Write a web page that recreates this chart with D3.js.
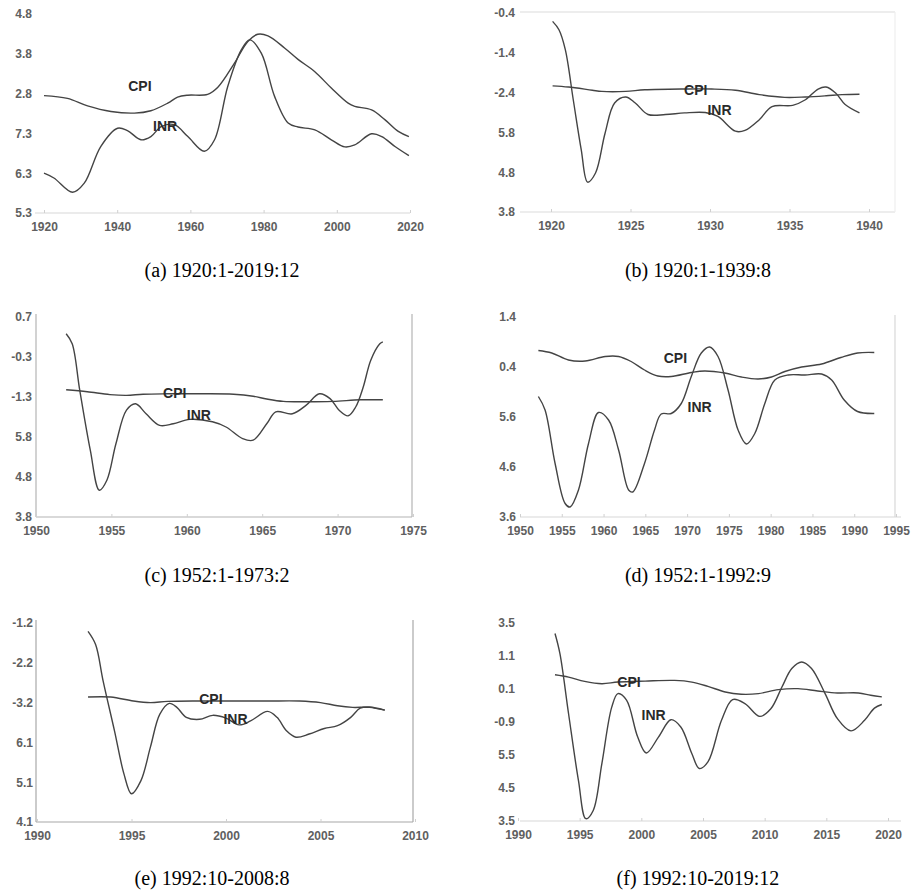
<!DOCTYPE html>
<html>
<head>
<meta charset="utf-8">
<script src="https://cdn.jsdelivr.net/npm/d3@7/dist/d3.min.js"></script>
<style>
  html, body { margin: 0; padding: 0; background: #fff; }
  svg { display: block; }
</style>
</head>
<body>
<script>
// ===== Data (values in tick-step units: 0 = lowest tick label) =====
const cpiA = [[1920,2.95],[1926.4,2.88],[1931.9,2.69],[1938.3,2.55],[1944.7,2.51],[1949.2,2.57],[1953.8,2.76],[1956.5,2.91],[1959.3,2.96],[1964.7,2.98],[1967.5,3.16],[1972,3.76],[1975.7,4.31],[1978.4,4.49],[1981.2,4.45],[1985.8,4.14],[1989.4,3.86],[1994,3.55],[1998.5,3.14],[2003.1,2.76],[2004.9,2.68],[2009.5,2.59],[2013.2,2.34],[2016.8,2.05],[2019.7,1.92]];
const inrA = [[1920,1.00],[1922.7,0.88],[1927.8,0.52],[1931,0.75],[1935.5,1.67],[1940.1,2.13],[1942.8,2.07],[1946.5,1.84],[1949.2,1.92],[1952,2.17],[1955.6,2.22],[1959.3,1.92],[1963.8,1.55],[1966.6,1.84],[1970.2,3.18],[1973.9,4.10],[1976.2,4.35],[1979.4,4.01],[1983,2.93],[1986.7,2.26],[1989.4,2.16],[1994,2.09],[1998.5,1.84],[2002.2,1.66],[2004.9,1.71],[2009.5,1.99],[2012.3,1.92],[2015.9,1.67],[2019.7,1.44]];

const cpiB = [[1920.1,3.17],[1921.1,3.14],[1922.6,3.06],[1923.2,3.03],[1924.7,3.03],[1925.9,3.07],[1928.4,3.09],[1930.1,3.09],[1931.6,3.06],[1933.1,2.95],[1934.7,2.88],[1936,2.89],[1937.3,2.92],[1938.3,2.95],[1939.4,2.96]];
const inrB = [[1920.1,4.79],[1920.5,4.58],[1920.9,4.08],[1921.4,2.82],[1921.9,1.57],[1922.3,0.75],[1922.8,0.98],[1923.4,1.98],[1924,2.74],[1924.7,2.89],[1925.3,2.74],[1926.1,2.45],[1927.2,2.45],[1928.4,2.49],[1929.7,2.50],[1930.5,2.40],[1931.6,2.03],[1932.2,2.05],[1933.1,2.32],[1933.9,2.65],[1935.2,2.68],[1936,2.82],[1936.8,3.09],[1937.3,3.14],[1937.9,2.99],[1938.5,2.70],[1939.4,2.49]];

const cpiC = [[1952,3.18],[1953.4,3.13],[1954.9,3.06],[1956,3.04],[1957.1,3.07],[1958.7,3.08],[1960.9,3.08],[1963.1,3.07],[1964.4,3.02],[1965.3,2.95],[1966.4,2.89],[1967.9,2.88],[1969.7,2.89],[1971.5,2.93],[1973,2.93]];
const inrC = [[1952,4.58],[1952.4,4.33],[1952.9,3.17],[1953.6,1.67],[1954.2,0.67],[1954.7,0.92],[1955.3,1.83],[1956,2.67],[1956.6,2.83],[1957.3,2.58],[1958.2,2.29],[1959.1,2.33],[1960.2,2.44],[1961.7,2.38],[1962.6,2.25],[1963.7,1.96],[1964.4,1.92],[1965.3,2.33],[1965.9,2.63],[1967,2.58],[1967.9,2.79],[1968.8,3.08],[1969.5,2.96],[1970.1,2.67],[1970.7,2.53],[1971.2,2.75],[1971.7,3.25],[1972.2,3.92],[1972.8,4.33],[1973,4.38]];

const cpiD = [[1952.2,3.33],[1953.8,3.28],[1955.8,3.14],[1957.8,3.12],[1960.2,3.21],[1961.8,3.21],[1963.3,3.11],[1964.9,2.94],[1966.5,2.82],[1968.1,2.81],[1970.5,2.89],[1972.1,2.92],[1974.5,2.88],[1976.5,2.80],[1978.5,2.76],[1980.1,2.80],[1981.7,2.91],[1983.7,3.00],[1986.1,3.06],[1988.4,3.19],[1990.4,3.28],[1992.4,3.29]];
const inrD = [[1952.2,2.41],[1953,2.14],[1954.2,1.07],[1955.4,0.27],[1956,0.20],[1957,0.54],[1958.2,1.47],[1959.4,2.09],[1960.6,1.94],[1961.8,1.34],[1963,0.54],[1963.5,0.50],[1964.9,1.07],[1966.1,1.74],[1966.9,2.06],[1968.1,2.07],[1969.3,2.27],[1970.5,2.81],[1971.7,3.28],[1972.7,3.40],[1973.7,3.21],[1974.9,2.54],[1976.1,1.74],[1977.1,1.46],[1978.1,1.67],[1979.3,2.27],[1980.5,2.74],[1982.1,2.84],[1984.1,2.84],[1986.1,2.86],[1987.3,2.74],[1988.8,2.34],[1990.4,2.11],[1992.4,2.07]];

const cpiE = [[1992.7,3.14],[1993.9,3.14],[1995.1,3.04],[1996,3.00],[1996.9,3.03],[1998.6,3.04],[2000.4,3.04],[2002.2,3.04],[2003.9,3.04],[2005,3.00],[2005.9,2.92],[2006.7,2.88],[2007.6,2.88],[2008.4,2.81]];
const inrE = [[1992.7,4.79],[1993.1,4.46],[1993.5,3.54],[1994.1,2.29],[1994.6,1.21],[1995,0.71],[1995.5,1.04],[1996,1.88],[1996.5,2.71],[1997,2.98],[1997.4,2.88],[1997.9,2.63],[1998.6,2.58],[1999.3,2.68],[2000,2.61],[2000.7,2.44],[2001.3,2.54],[2002.2,2.78],[2002.7,2.63],[2003.2,2.29],[2003.7,2.13],[2004.4,2.21],[2005.2,2.35],[2005.9,2.42],[2006.6,2.63],[2007.1,2.86],[2007.6,2.89],[2008.4,2.81]];

const cpiF = [[1993,4.43],[1994.1,4.36],[1995.4,4.23],[1996.8,4.16],[1998.1,4.21],[2000.3,4.24],[2002.7,4.26],[2004.1,4.21],[2005.4,4.08],[2006.8,3.91],[2008.1,3.84],[2009.5,3.86],[2011.1,3.98],[2012.7,4.01],[2014.3,3.94],[2015.9,3.88],[2017.6,3.88],[2018.6,3.81],[2019.5,3.76]];
const inrF = [[1993,5.68],[1993.4,5.07],[1994.1,3.25],[1994.9,1.23],[1995.5,0.07],[1996.1,0.32],[1996.8,1.74],[1997.6,3.45],[1998.1,3.86],[1998.8,3.66],[1999.7,2.55],[2000.4,2.06],[2001.4,2.55],[2002.4,3.07],[2003.2,2.85],[2004.1,2.04],[2004.7,1.59],[2005.4,1.79],[2006.5,3.05],[2007.4,3.68],[2008.4,3.56],[2009.6,3.17],[2010.5,3.40],[2011.4,4.06],[2012.2,4.62],[2013,4.82],[2013.8,4.62],[2014.9,3.86],[2015.9,3.10],[2017,2.73],[2018.1,3.05],[2018.9,3.42],[2019.5,3.53]];

// tick labels, bottom to top, as printed
const yLabelsA = ["5.3","6.3","7.3","2.8","3.8","4.8"];
const yLabelsB = ["3.8","4.8","5.8","-2.4","-1.4","-0.4"];
const yLabelsC = ["3.8","4.8","5.8","-1.3","-0.3","0.7"];
const yLabelsD = ["3.6","4.6","5.6","0.4","1.4"];
const yLabelsE = ["4.1","5.1","6.1","-3.2","-2.2","-1.2"];
const yLabelsF = ["3.5","4.5","5.5","-0.9","0.1","1.1","3.5"];

const xTicksA = [1920,1940,1960,1980,2000,2020];
const xTicksB = [1920,1925,1930,1935,1940];
const xTicksC = [1950,1955,1960,1965,1970,1975];
const xTicksD = [1950,1955,1960,1965,1970,1975,1980,1985,1990,1995];
const xTicksE = [1990,1995,2000,2005,2010];
const xTicksF = [1990,1995,2000,2005,2010,2015,2020];

const captions = ["(a) 1920:1-2019:12","(b) 1920:1-1939:8","(c) 1952:1-1973:2","(d) 1952:1-1992:9","(e) 1992:10-2008:8","(f) 1992:10-2019:12"];

// label anchors [year, value]
const cpiLabelPos = [[1946.2,3.19],[1929.1,3.07],[1959.2,3.09],[1968.6,3.18],[1999.2,3.10],[1999.0,4.21]];
const inrLabelPos = [[1953.1,2.19],[1930.6,2.56],[1960.8,2.56],[1971.5,2.19],[2000.5,2.58],[2001.0,3.21]];

// ===== Layout =====
const W = 916, H = 893;
const panels = [
  { cpi: cpiA, inr: inrA, yl: yLabelsA, xt: xTicksA, x0: 44,  x1: 410, yb: 213, yt: 14,  lab: 32,
    frame: { l: null, r: null, t: null, bx0: 35, bx1: 410, col: "#d8d8d8" }, cap: [222, 277] },
  { cpi: cpiB, inr: inrB, yl: yLabelsB, xt: xTicksB, x0: 551, x1: 869, yb: 212, yt: 13,  lab: 515,
    frame: { l: null, r: 895, t: 12, bx0: 520, bx1: 895, col: "#dcdcdc" }, cap: [698, 277] },
  { cpi: cpiC, inr: inrC, yl: yLabelsC, xt: xTicksC, x0: 36,  x1: 413, yb: 517, yt: 317, lab: 32,
    frame: { l: 36, r: 412, t: null, top: 314, bx0: 36, bx1: 412, col: "#b4b4b4" }, cap: [217, 582] },
  { cpi: cpiD, inr: inrD, yl: yLabelsD, xt: xTicksD, x0: 520, x1: 896, yb: 517, yt: 317, lab: 516,
    frame: { l: null, r: 895, t: null, top: 315, bx0: 520, bx1: 901, col: "#d8d8d8" }, cap: [698, 582] },
  { cpi: cpiE, inr: inrE, yl: yLabelsE, xt: xTicksE, x0: 37,  x1: 415, yb: 822, yt: 623, lab: 33,
    frame: { l: 36, r: 413, t: null, top: 620, bx0: 36, bx1: 413, col: "#a8a8a8" }, cap: [212, 885] },
  { cpi: cpiF, inr: inrF, yl: yLabelsF, xt: xTicksF, x0: 518, x1: 888, yb: 821, yt: 623, lab: 515,
    frame: { l: null, r: null, t: null, bx0: 520, bx1: 901, col: "#d8d8d8" }, cap: [698, 885] }
];

const sans = "'Liberation Sans', Arial, sans-serif";
const serif = "'Liberation Serif', 'Times New Roman', serif";

const svg = d3.select("body").append("svg").attr("width", W).attr("height", H);
svg.append("rect").attr("width", W).attr("height", H).attr("fill", "#fff");

panels.forEach((p, i) => {
  const g = svg.append("g");
  const x = d3.scaleLinear().domain(d3.extent(p.xt)).range([p.x0, p.x1]);
  const y = d3.scaleLinear().domain([0, p.yl.length - 1]).range([p.yb, p.yt]);

  // frame lines
  const f = p.frame;
  g.append("line").attr("x1", f.bx0).attr("x2", f.bx1).attr("y1", p.yb).attr("y2", p.yb)
    .attr("stroke", f.col).attr("stroke-width", 1.2);
  if (f.t != null)
    g.append("line").attr("x1", f.bx0).attr("x2", f.bx1).attr("y1", f.t).attr("y2", f.t)
      .attr("stroke", f.col).attr("stroke-width", 1.2);
  if (f.l != null)
    g.append("line").attr("x1", f.l).attr("x2", f.l).attr("y1", f.top).attr("y2", p.yb)
      .attr("stroke", f.col).attr("stroke-width", 1.2);
  if (f.r != null)
    g.append("line").attr("x1", f.r).attr("x2", f.r).attr("y1", f.top ?? f.t ?? p.yt).attr("y2", p.yb)
      .attr("stroke", f.col === "#dcdcdc" ? "#eeeeee" : f.col).attr("stroke-width", 1.2);

  // y axis (labels only)
  const ya = g.append("g").attr("transform", `translate(${p.lab},0)`)
    .call(d3.axisLeft(y).tickValues(d3.range(p.yl.length)).tickFormat(k => p.yl[k]).tickSize(0).tickPadding(0));
  ya.select(".domain").remove();
  ya.selectAll("text").attr("font-family", sans).attr("font-size", 12).attr("font-weight", "bold").attr("fill", "#606060");

  // x axis
  const xa = g.append("g").attr("transform", `translate(0,${p.yb})`)
    .call(d3.axisBottom(x).tickValues(p.xt).tickFormat(d3.format("d")).tickSize(-3).tickPadding(9));
  xa.select(".domain").remove();
  xa.selectAll(".tick line").attr("stroke", "#d0d0d0");
  xa.selectAll("text").attr("font-family", sans).attr("font-size", 12).attr("font-weight", "bold").attr("fill", "#606060");

  // series
  const line = d3.line().x(d => x(d[0])).y(d => y(d[1])).curve(d3.curveCatmullRom.alpha(0.5));
  [p.cpi, p.inr].forEach(s => {
    g.append("path").datum(s).attr("d", line)
      .attr("fill", "none").attr("stroke", "#444").attr("stroke-width", 1.4);
  });

  // series labels
  [["CPI", cpiLabelPos[i]], ["INR", inrLabelPos[i]]].forEach(([t, pos]) => {
    g.append("text").attr("x", x(pos[0])).attr("y", y(pos[1])).attr("dy", "0.35em")
      .attr("text-anchor", "middle").attr("font-family", sans).attr("font-size", 14)
      .attr("font-weight", "bold").attr("fill", "#2a2a2a").text(t);
  });

  // caption
  g.append("text").attr("x", p.cap[0]).attr("y", p.cap[1]).attr("text-anchor", "middle")
    .attr("font-family", serif).attr("font-size", 20).attr("fill", "#000").text(captions[i]);
});
</script>
</body>
</html>
